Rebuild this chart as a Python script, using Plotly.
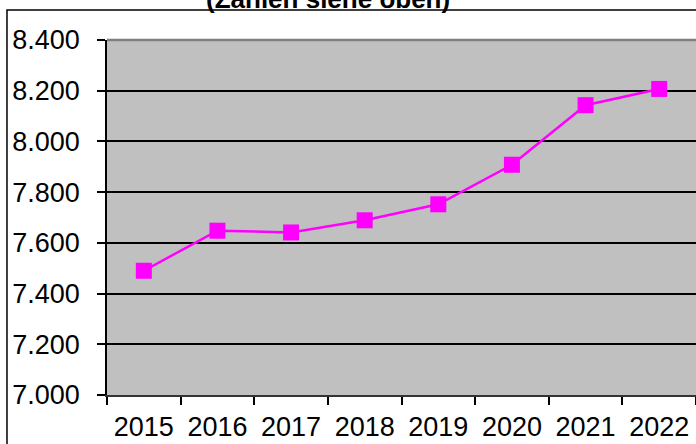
import plotly.graph_objects as go

years = ["2015", "2016", "2017", "2018", "2019", "2020", "2021", "2022"]
values = [7490, 7648, 7641, 7689, 7752, 7908, 8143, 8207]
y_ticks = [7000, 7200, 7400, 7600, 7800, 8000, 8200, 8400]
title_text = "(Zahlen siehe oben)"

fig = go.Figure()
fig.add_trace(go.Scatter(
    x=years, y=values, mode="lines+markers",
    line=dict(color="#FF00FF", width=2.5),
    marker=dict(symbol="square", size=16, color="#FF00FF"),
    hoverinfo="skip",
))

fig.update_layout(
    width=696, height=444,
    margin=dict(l=107, r=0, t=40, b=49),
    paper_bgcolor="white",
    plot_bgcolor="#C0C0C0",
    separators=",.",
    showlegend=False,
    font=dict(family="Liberation Sans, Arial, sans-serif", color="black"),
)
fig.update_xaxes(
    type="category", tickson="boundaries",
    ticks="outside", ticklen=8, tickcolor="black", tickwidth=1.5,
    showline=True, linecolor="#333333", linewidth=2,
    showgrid=False,
    tickfont=dict(size=27, color="black"),
    ticklabelstandoff=7,
    range=[-0.5, 7.5],
)
fig.update_yaxes(
    range=[7000, 8400], tickvals=y_ticks, tickformat=",d",
    ticks="outside", ticklen=8, tickcolor="black", tickwidth=1.5,
    showline=True, linecolor="black", linewidth=1.5,
    showgrid=True, gridcolor="black", gridwidth=1.5,
    zeroline=False,
    tickfont=dict(size=27, color="black"),
    ticklabelstandoff=12,
)
# plot area top border (gray)
fig.add_shape(type="line", xref="paper", yref="paper", x0=0, x1=1, y0=1, y1=1,
              line=dict(color="#808080", width=2.5))
# outer chart border
fig.add_shape(type="rect", xref="paper", yref="paper",
              x0=-0.1698, x1=1.2, y0=-0.4, y1=1.0845,
              line=dict(color="black", width=1.5), layer="above")
fig.add_annotation(
    text="<b>" + title_text + "</b>", xref="paper", yref="paper",
    x=0.375, y=1.115, xanchor="center", yanchor="middle", showarrow=False,
    font=dict(size=26, color="black", family="Liberation Sans, Arial, sans-serif"),
)

fig.write_html(
    "out.html",
    config={"displayModeBar": False},
    post_script="document.body.style.margin='0';document.body.style.overflow='hidden';",
)
